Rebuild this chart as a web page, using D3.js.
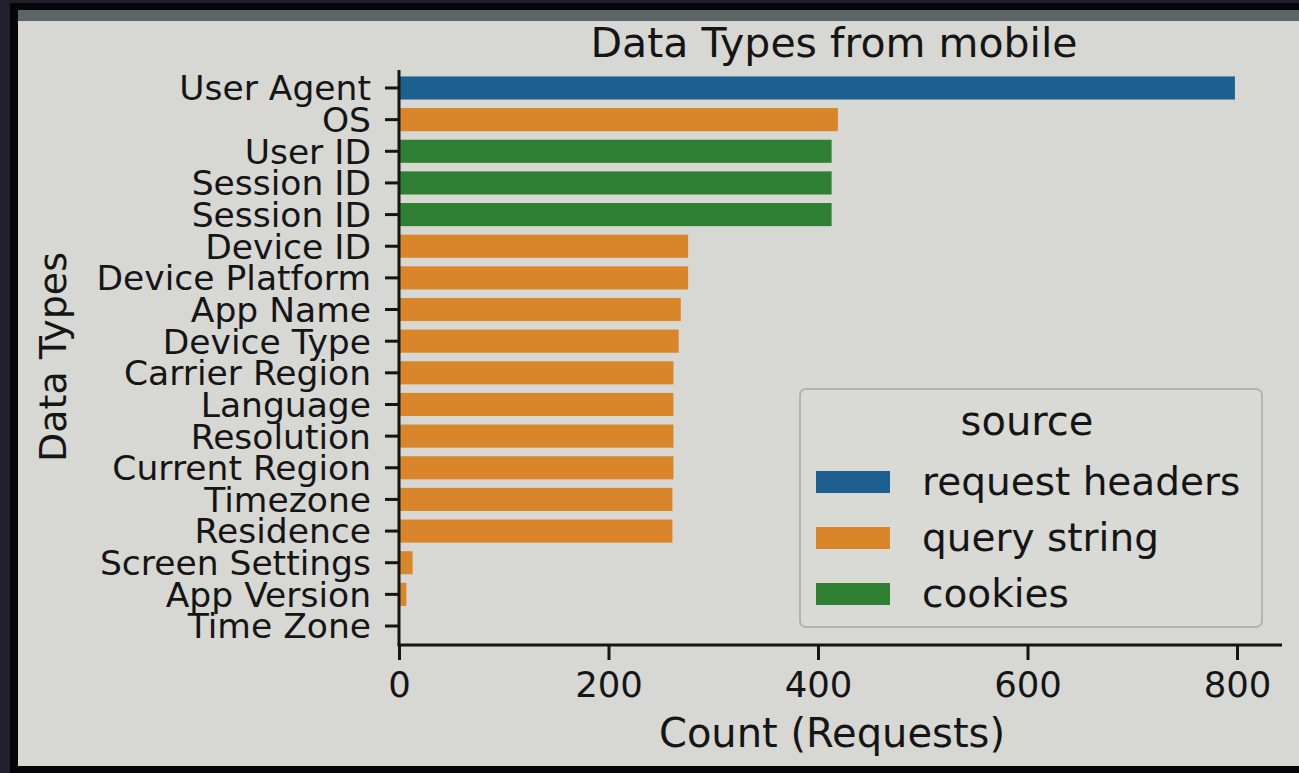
<!DOCTYPE html>
<html>
<head>
<meta charset="utf-8">
<script src="https://cdn.jsdelivr.net/npm/d3@7"></script>
<style>
  html, body { margin: 0; padding: 0; background: #221f2d; }
  svg { display: block; font-family: "DejaVu Sans", sans-serif; }
  .tick text { fill: #151515; }
</style>
</head>
<body>
<div id="chart"></div>
<script>
// chart data
var categories = ["User Agent", "OS", "User ID", "Session ID", "Session ID ", "Device ID",
  "Device Platform", "App Name", "Device Type", "Carrier Region", "Language", "Resolution",
  "Current Region", "Timezone", "Residence", "Screen Settings", "App Version", "Time Zone"];
var counts = [798, 419, 413, 413, 413, 276, 276, 269, 267, 262, 262, 262, 262, 261, 261, 13, 7, 0];
var sources = ["request headers", "query string", "cookies", "cookies", "cookies", "query string",
  "query string", "query string", "query string", "query string", "query string", "query string",
  "query string", "query string", "query string", "query string", "query string", "query string"];
var sourceNames = ["request headers", "query string", "cookies"];
var xTicks = [0, 200, 400, 600, 800];

var width = 1299, height = 773;
var margin = {left: 399, top: 72, right: 17, bottom: 128};
var FONT = "DejaVu Sans, sans-serif";

var svg = d3.select("#chart").append("svg")
  .attr("width", width)
  .attr("height", height);

// screen frame from the photo
svg.append("rect").attr("x", 10).attr("y", 3).attr("width", 1289).attr("height", 770).attr("fill", "#060608");
svg.append("rect").attr("x", 18).attr("y", 10).attr("width", 1281).attr("height", 756).attr("fill", "#d7d7d4");
svg.append("rect").attr("x", 18).attr("y", 10).attr("width", 1281).attr("height", 11).attr("fill", "#5e6569");

var color = d3.scaleOrdinal()
  .domain(sourceNames)
  .range(["#1d5f8e", "#d9862a", "#2e7f31"]);

var x = d3.scaleLinear()
  .domain([0, 800])
  .range([margin.left, 1237]);

var y = d3.scaleBand()
  .domain(categories)
  .range([margin.top, height - margin.bottom - 3])
  .paddingInner(0.27)
  .paddingOuter(0.14);

var rows = categories.map(function(c, i) {
  return {cat: c, value: counts[i], source: sources[i]};
});

svg.append("g").selectAll("rect")
  .data(rows)
  .enter()
  .append("rect")
  .attr("x", x(0))
  .attr("y", function(d) { return y(d.cat); })
  .attr("width", function(d) { return x(d.value) - x(0); })
  .attr("height", y.bandwidth())
  .attr("fill", function(d) { return color(d.source); });

var axisY = height - margin.bottom;

// y axis
var yAxis = svg.append("g")
  .attr("transform", "translate(" + margin.left + ",0)")
  .call(d3.axisLeft(y).tickSize(14).tickPadding(14).tickFormat(function(d) { return d.trim(); }))
  .attr("font-family", FONT);
yAxis.select(".domain").remove();
yAxis.selectAll(".tick line").attr("stroke", "#151515").attr("stroke-width", 3);
yAxis.selectAll(".tick text").attr("font-size", 34.5).attr("dy", "0.36em");
svg.append("line")
  .attr("x1", margin.left).attr("x2", margin.left)
  .attr("y1", margin.top - 2).attr("y2", axisY)
  .attr("stroke", "#151515").attr("stroke-width", 3);

// x axis
var xAxis = svg.append("g")
  .attr("transform", "translate(0," + axisY + ")")
  .call(d3.axisBottom(x).tickValues(xTicks).tickSize(15).tickPadding(12))
  .attr("font-family", FONT);
xAxis.select(".domain").remove();
xAxis.selectAll(".tick line").attr("stroke", "#151515").attr("stroke-width", 3);
xAxis.selectAll(".tick text").attr("font-size", 35.5);
svg.append("line")
  .attr("x1", margin.left - 1.5).attr("x2", 1282)
  .attr("y1", axisY).attr("y2", axisY)
  .attr("stroke", "#151515").attr("stroke-width", 3);

// labels
svg.append("text")
  .attr("x", 834).attr("y", 57)
  .attr("text-anchor", "middle")
  .attr("font-size", 41)
  .attr("fill", "#151515")
  .text("Data Types from mobile");

svg.append("text")
  .attr("x", 832).attr("y", 747)
  .attr("text-anchor", "middle")
  .attr("font-size", 40)
  .attr("fill", "#151515")
  .text("Count (Requests)");

svg.append("text")
  .attr("transform", "translate(66,357) rotate(-90)")
  .attr("text-anchor", "middle")
  .attr("font-size", 38)
  .attr("fill", "#151515")
  .text("Data Types");

// legend
var lg = svg.append("g").attr("transform", "translate(800,389)");
lg.append("rect")
  .attr("width", 462).attr("height", 238)
  .attr("rx", 6)
  .attr("fill", "#d9d9d6")
  .attr("stroke", "#b3b3b1")
  .attr("stroke-width", 2);
lg.append("text")
  .attr("x", 227).attr("y", 46)
  .attr("text-anchor", "middle")
  .attr("font-size", 40)
  .attr("fill", "#151515")
  .text("source");
var items = lg.selectAll("g.item")
  .data(sourceNames)
  .enter()
  .append("g")
  .attr("class", "item")
  .attr("transform", function(d, i) { return "translate(0," + (i * 56) + ")"; });
items.append("rect")
  .attr("x", 16).attr("y", 82)
  .attr("width", 74).attr("height", 22)
  .attr("fill", function(d) { return color(d); });
items.append("text")
  .attr("x", 122).attr("y", 106)
  .attr("font-size", 39)
  .attr("fill", "#151515")
  .text(function(d) { return d; });
</script>
</body>
</html>
